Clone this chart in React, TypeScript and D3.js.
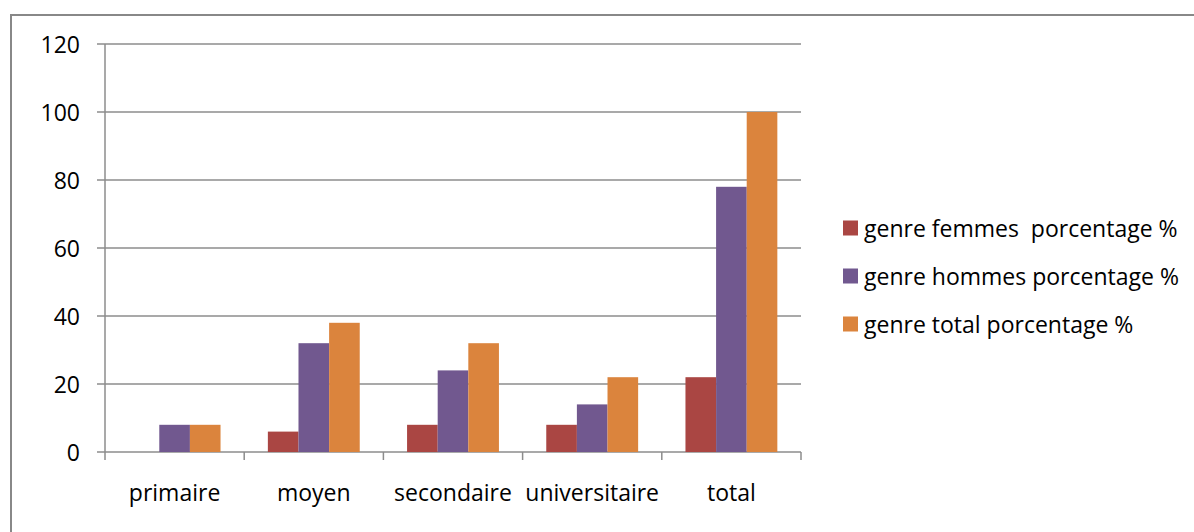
import React from "react";
import * as d3 from "d3";

const categories = ["primaire", "moyen", "secondaire", "universitaire", "total"];
const seriesNames = [
  "genre femmes  porcentage %",
  "genre hommes porcentage %",
  "genre total porcentage %",
];
const femmes = [0, 6, 8, 8, 22];
const hommes = [8, 32, 24, 14, 78];
const totalSeries = [8, 38, 32, 22, 100];
const yTicks = [0, 20, 40, 60, 80, 100, 120];
const colors = ["#AA4643", "#71588F", "#DB843D"];

export default function App() {
  const W = 1194;
  const H = 532;
  const left = 105;
  const right = 801;
  const top = 44;
  const bottom = 452;
  const seriesValues = [femmes, hommes, totalSeries];

  const x0 = d3.scaleBand<string>().domain(categories).range([left, right]).padding(0);
  const bw = x0.bandwidth();
  const gap = bw * 0.34;
  const x1 = d3
    .scaleBand<number>()
    .domain([0, 1, 2])
    .range([gap / 2, bw - gap / 2])
    .padding(0);
  const y = d3.scaleLinear().domain([0, 120]).range([bottom, top]);

  const font = "'Open Sans', sans-serif";
  const grid = "#8c8c8c";
  const fs = 23;

  return (
    <svg
      width={W}
      height={H}
      style={{ position: "absolute", left: 0, top: 0, display: "block" }}
      fontFamily={font}
    >
      <rect x={0} y={0} width={W} height={H} fill="#fff" />
      <path d={`M11,${H + 5} L11,15 L${W + 5},15`} fill="none" stroke="#888" strokeWidth={2} />
      {yTicks.map((t) => (
        <g key={t}>
          <line x1={left - 8} x2={right} y1={y(t)} y2={y(t)} stroke={grid} strokeWidth={1.5} />
          <text
            x={80}
            y={y(t)}
            textAnchor="end"
            dominantBaseline="central"
            fontSize={fs}
            fill="#000"
          >
            {t}
          </text>
        </g>
      ))}
      <line x1={left} x2={left} y1={top} y2={bottom} stroke={grid} strokeWidth={1.5} />
      {categories.concat(["__end"]).map((c, i) => {
        const xx = i < categories.length ? (x0(c) as number) : right;
        return <line key={c} x1={xx} x2={xx} y1={bottom} y2={bottom + 8} stroke={grid} strokeWidth={1.5} />;
      })}
      {categories.map((c, ci) => (
        <g key={c} transform={`translate(${x0(c)},0)`}>
          {seriesValues.map((vals, si) =>
            vals[ci] > 0 ? (
              <rect
                key={si}
                x={x1(si) as number}
                y={y(vals[ci])}
                width={x1.bandwidth()}
                height={y(0) - y(vals[ci])}
                fill={colors[si]}
              />
            ) : null
          )}
          <text
            x={bw / 2}
            y={492}
            textAnchor="middle"
            dominantBaseline="central"
            fontSize={fs}
            fill="#000"
          >
            {c}
          </text>
        </g>
      ))}
      {seriesNames.map((s, i) => {
        const cy = 228 + i * 48;
        return (
          <g key={s}>
            <rect x={843} y={cy - 7.5} width={15} height={15} fill={colors[i]} />
            <text
              x={864}
              y={cy}
              dominantBaseline="central"
              fontSize={fs}
              fill="#000"
              style={{ whiteSpace: "pre" }}
            >
              {s}
            </text>
          </g>
        );
      })}
    </svg>
  );
}
